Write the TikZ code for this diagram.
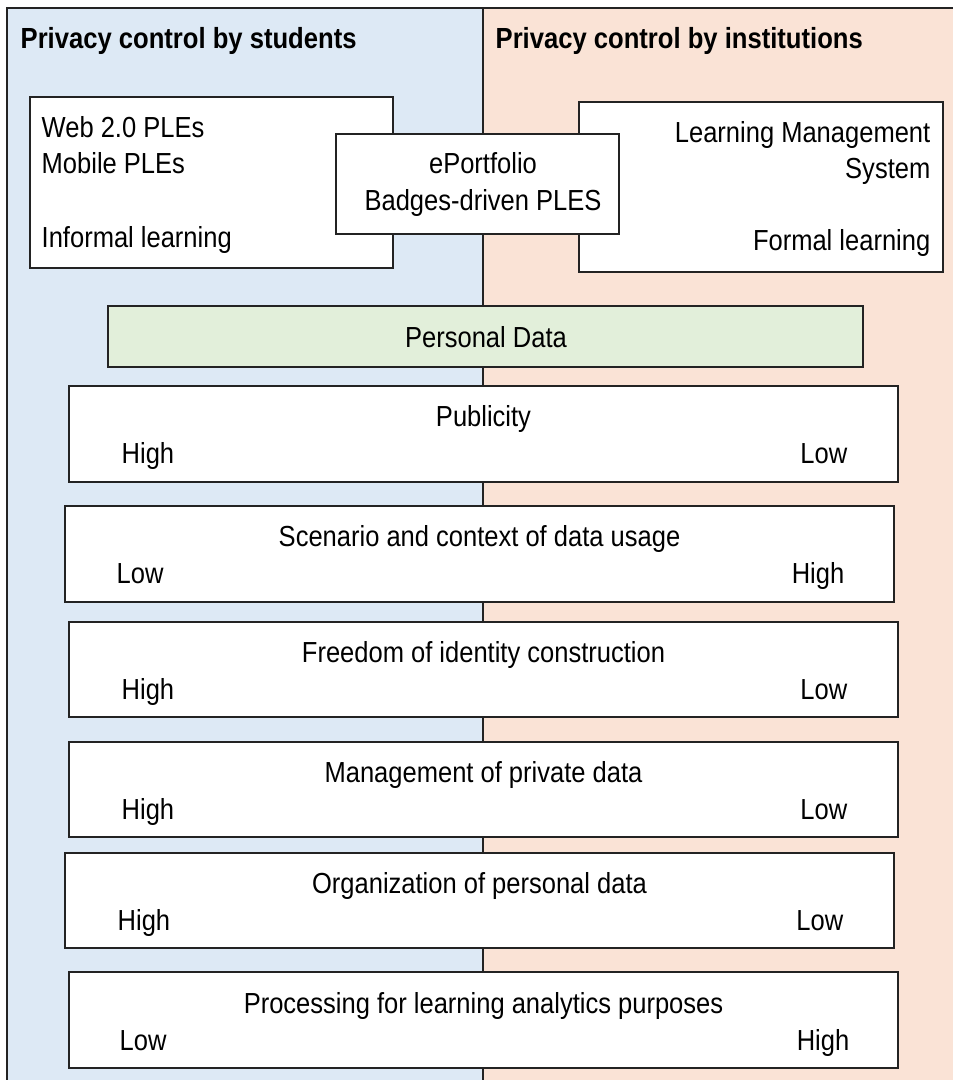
\documentclass[tikz,border=0pt]{standalone}
\usepackage{fontspec}
\setmainfont{Liberation Sans}[FakeStretch=0.88]
\definecolor{stublue}{RGB}{221,233,245}
\definecolor{instpeach}{RGB}{250,227,214}
\definecolor{datagreen}{RGB}{226,239,218}
\definecolor{edge}{RGB}{35,35,35}

\begin{document}
\begin{tikzpicture}[x=1pt,y=-1pt,line width=1.4pt,
    txt/.style={inner sep=0pt,font=\fontsize{29}{36}\selectfont},
    head/.style={inner sep=0pt,anchor=base west,font=\fontsize{29.1}{34}\selectfont\bfseries},
    panel/.style={draw=edge,fill=white}]
    \path[use as bounding box,clip] (0,0) rectangle (953,1080);
    \fill[white] (0,0) rectangle (953,1080);

    % the two sides
    \draw[edge,fill=stublue] (7,8) rectangle (483,1100);
    \draw[edge,fill=instpeach] (483,8) rectangle (975,1100);
    \node[head] (students) at (20,48) {Privacy control by students};
    \node[head] (institutions) at (495,48) {Privacy control by institutions};

    % learning environments
    \draw[panel] (30,97) rectangle (393,268);
    \node[txt,anchor=base west] (web) at (41,137) {Web 2.0 PLEs};
    \node[txt,anchor=base west] (mobile) at (41,173) {Mobile PLEs};
    \node[txt,anchor=base west] (informal) at (41,247) {Informal learning};

    \draw[panel] (579,102) rectangle (943,272);
    \node[txt,anchor=base east] (lms) at (931,142) {Learning Management};
    \node[txt,anchor=base east] (lmssys) at (931,178) {System};
    \node[txt,anchor=base east] (formal) at (931,250) {Formal learning};

    \draw[panel] (336,134) rectangle (619,234);
    \node[txt,anchor=base] (eport) at (483,173) {ePortfolio};
    \node[txt,anchor=base] (badges) at (483,210) {Badges-driven PLES};

    \draw[edge,fill=datagreen] (108,306) rectangle (863,367);
    \node[txt,anchor=base] (pdata) at (486,347) {Personal Data};

    % scales
    \draw[panel] (69,386) rectangle (898,482);
    \node[txt,anchor=base] (publ) at (483.5,426) {Publicity};
    \node[txt,anchor=base west] (publL) at (121,463) {High};
    \node[txt,anchor=base east] (publR) at (848,463) {Low};

    \draw[panel] (65,506) rectangle (894,602);
    \node[txt,anchor=base] (scen) at (479.5,546) {Scenario and context of data usage};
    \node[txt,anchor=base west] (scenL) at (116,583) {Low};
    \node[txt,anchor=base east] (scenR) at (845,583) {High};

    \draw[panel] (69,622) rectangle (898,717);
    \node[txt,anchor=base] (free) at (483.5,662) {Freedom of identity construction};
    \node[txt,anchor=base west] (freeL) at (121,699) {High};
    \node[txt,anchor=base east] (freeR) at (848,699) {Low};

    \draw[panel] (69,742) rectangle (898,837);
    \node[txt,anchor=base] (mgmt) at (483.5,782) {Management of private data};
    \node[txt,anchor=base west] (mgmtL) at (121,819) {High};
    \node[txt,anchor=base east] (mgmtR) at (848,819) {Low};

    \draw[panel] (65,853) rectangle (894,948);
    \node[txt,anchor=base] (orga) at (479.5,893) {Organization of personal data};
    \node[txt,anchor=base west] (orgaL) at (117,930) {High};
    \node[txt,anchor=base east] (orgaR) at (844,930) {Low};

    \draw[panel] (69,972) rectangle (898,1068);
    \node[txt,anchor=base] (proc) at (483.5,1013) {Processing for learning analytics purposes};
    \node[txt,anchor=base west] (procL) at (119,1050) {Low};
    \node[txt,anchor=base east] (procR) at (850,1050) {High};
\end{tikzpicture}
\end{document}
